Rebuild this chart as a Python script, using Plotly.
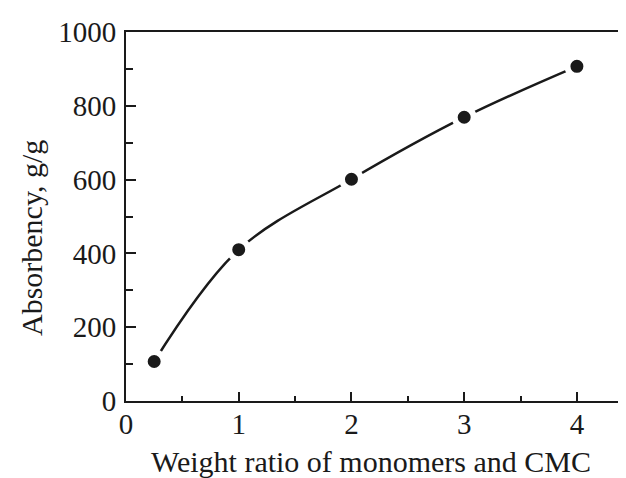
import plotly.graph_objects as go

ratio = [0.25, 1, 2, 3, 4]
absorbency = [107, 410, 601, 769, 907]

x_ticks = [0, 1, 2, 3, 4]
y_ticks = [0, 200, 400, 600, 800, 1000]

x_title = "Weight ratio of monomers and CMC"
y_title = "Absorbency, g/g"

font_family = "Liberation Serif"
ink = "#1a1a1a"

fig = go.Figure()
fig.add_trace(go.Scatter(
    x=ratio, y=absorbency,
    mode="lines+markers",
    line=dict(shape="spline", smoothing=1.0, color=ink, width=2.5),
    marker=dict(size=19, color=ink, line=dict(color="white", width=6)),
    showlegend=False,
))

fig.update_layout(
    width=618, height=470,
    margin=dict(l=118, r=4, t=24, b=77, pad=0),
    paper_bgcolor="white", plot_bgcolor="white",
    font=dict(family=font_family, color=ink, size=29),
)
fig.update_xaxes(
    range=[0, 4.4], tickvals=x_ticks, ticktext=[str(v) for v in x_ticks],
    automargin=False,
    showgrid=False, zeroline=False,
    showline=True, linecolor=ink, linewidth=2, mirror=True,
    ticks="inside", ticklen=9, tickwidth=2, tickcolor=ink,
    minor=dict(dtick=0.5, tick0=0, ticks="inside", ticklen=5, tickwidth=1.5, tickcolor=ink),
    tickfont=dict(size=29, family=font_family),
    ticklabelstandoff=-4,
)
fig.update_yaxes(
    range=[0, 1000], tickvals=y_ticks, ticktext=[str(v) for v in y_ticks],
    automargin=False,
    showgrid=False, zeroline=False,
    showline=True, linecolor=ink, linewidth=2, mirror=False,
    ticks="inside", ticklen=10, tickwidth=2, tickcolor=ink,
    minor=dict(dtick=100, tick0=0, ticks="inside", ticklen=7, tickwidth=1.5, tickcolor=ink),
    tickfont=dict(size=29, family=font_family),
    ticklabelstandoff=2,
)
fig.add_annotation(
    text=x_title, xref="paper", yref="paper", x=0.494, y=-0.164,
    xanchor="center", yanchor="middle", showarrow=False,
    font=dict(size=30, family=font_family, color=ink),
)
fig.add_annotation(
    text=y_title, xref="paper", yref="paper", x=-0.1915, y=0.4417,
    xanchor="center", yanchor="middle", showarrow=False, textangle=-90,
    font=dict(size=30, family=font_family, color=ink),
)

fig.write_html("out.html")
